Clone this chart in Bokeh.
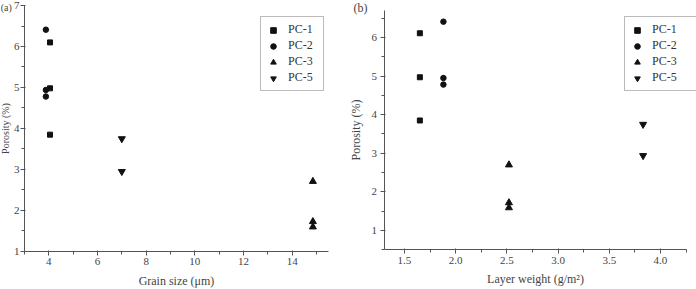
import math
from bokeh.plotting import figure
from bokeh.layouts import row
from bokeh.models import (Label, Legend, LegendItem, SingleIntervalTicker,
                          PrintfTickFormatter, ColumnDataSource, LinearAxis,
                          Range1d)
from bokeh.embed import file_html
from bokeh.resources import INLINE

# ---- data ----
series = ["PC-1", "PC-2", "PC-3", "PC-5"]
markers = ["square", "circle", "triangle", "inverted_triangle"]
marker_sizes = [5, 5.5, 7, 7]
grain_size = {"PC-1": 4.05, "PC-2": 3.88, "PC-3": 14.85, "PC-5": 7.0}
layer_weight = {"PC-1": 1.65, "PC-2": 1.88, "PC-3": 2.52, "PC-5": 3.83}
porosity_a = {
    "PC-1": [6.10, 4.98, 3.85],
    "PC-2": [6.41, 4.94, 4.78],
    "PC-3": [2.71, 1.73, 1.60],
    "PC-5": [3.75, 2.95],
}
porosity_b = {
    "PC-1": [6.11, 4.97, 3.85],
    "PC-2": [6.41, 4.95, 4.78],
    "PC-3": [2.70, 1.72, 1.59],
    "PC-5": [3.75, 2.94],
}

FONT = "Liberation Serif"
AX = "#555555"
TXT = "#444444"
INK = "#111111"


def make_axis(cls_kw, interval, bounds, fixed, label, fmt=None):
    ax = LinearAxis(ticker=SingleIntervalTicker(interval=interval, num_minor_ticks=2),
                    bounds=bounds, fixed_location=fixed, axis_label=label)
    ax.axis_line_color = AX
    ax.major_tick_line_color = AX
    ax.minor_tick_line_color = AX
    ax.major_tick_out = 4
    ax.major_tick_in = 1
    ax.minor_tick_out = 3
    ax.minor_tick_in = 0
    ax.major_label_text_font = FONT
    ax.major_label_text_font_size = "11px"
    ax.major_label_text_color = TXT
    ax.axis_label_text_font = FONT
    ax.axis_label_text_font_size = "12px"
    ax.axis_label_text_font_style = "normal"
    ax.axis_label_text_color = TXT
    ax.major_label_standoff = 3
    ax.axis_label_standoff = 5
    if fmt is not None:
        ax.formatter = fmt
    for k, v in cls_kw.items():
        setattr(ax, k, v)
    return ax


def base_fig(w, h, xr, yr):
    p = figure(width=w, height=h, x_range=Range1d(*xr), y_range=Range1d(*yr),
               output_backend="svg", toolbar_location=None,
               x_axis_location=None, y_axis_location=None,
               min_border=0, min_border_left=0, min_border_right=0,
               min_border_top=0, min_border_bottom=0)
    p.xgrid.visible = False
    p.ygrid.visible = False
    p.outline_line_color = None
    p.background_fill_color = "white"
    p.border_fill_color = "white"
    return p


def add_series(p, xmap, ymap):
    items = []
    for s, m, sz in zip(series, markers, marker_sizes):
        ys = ymap[s]
        src = ColumnDataSource(dict(x=[xmap[s]] * len(ys), y=ys))
        r = p.scatter("x", "y", source=src, marker=m, size=sz,
                      fill_color=INK, line_color=INK)
        items.append(LegendItem(label=s, renderers=[r]))
    return items


def make_legend(items, loc, label_width):
    return Legend(items=items, location=loc, margin=0, padding=5, spacing=1,
                  glyph_width=14, glyph_height=14, label_height=13,
                  label_width=label_width, label_standoff=8,
                  label_text_font=FONT, label_text_font_size="12px",
                  label_text_color="#333333",
                  border_line_color="#777777", border_line_width=1,
                  background_fill_color="white", background_fill_alpha=1)


# ---- panel (a) ----  (axis lines at x=3, y=1; canvas 340x289)
xa0, xa1 = 2.0156, 15.984
ya0, ya1 = 0.073, 7.122
p1 = base_fig(340, 289, (xa0, xa1), (ya0, ya1))
p1.add_layout(make_axis({}, 2, (3.0, 15.5), 1.0, "Grain size (μm)"), "below")
p1.add_layout(make_axis({"axis_label_text_font_size": "10px",
                         "axis_label_standoff": 0,
                         "major_label_standoff": 1},
                        1, (1.0, 7.0), 3.0, "Porosity (%)"), "left")
items1 = add_series(p1, grain_size, porosity_a)
p1.add_layout(make_legend(items1, (260, 198), 30), "center")
p1.add_layout(Label(x=xa0 + 0.01, y=6.96, text="(a)", text_font=FONT,
                    text_font_size="10px", text_color=TXT,
                    text_baseline="middle", text_align="left"))

# ---- panel (b) ----  (axis lines at x=1.3, y=0.5; canvas 356x289)
xb0, xb1 = 0.875, 4.3516
yb0, yb1 = -0.5285, 6.9585
p2 = base_fig(356, 289, (xb0, xb1), (yb0, yb1))
p2.add_layout(make_axis({}, 0.5, (1.3, 4.25), 0.5, "Layer weight (g/m²)",
                        PrintfTickFormatter(format="%.1f")), "below")
p2.add_layout(make_axis({"axis_label_standoff": 6}, 1, (0.5, 6.7), 1.3,
                        "Porosity (%)"), "left")
items2 = add_series(p2, layer_weight, porosity_b)
p2.add_layout(make_legend(items2, (284, 198), 40), "center")
p2.add_layout(Label(x=1.002, y=6.777, text="(b)", text_font=FONT,
                    text_font_size="12px", text_color=TXT,
                    text_baseline="middle", text_align="left"))

layout = row(p1, p2)
open("out.html", "w").write(file_html(layout, INLINE))
